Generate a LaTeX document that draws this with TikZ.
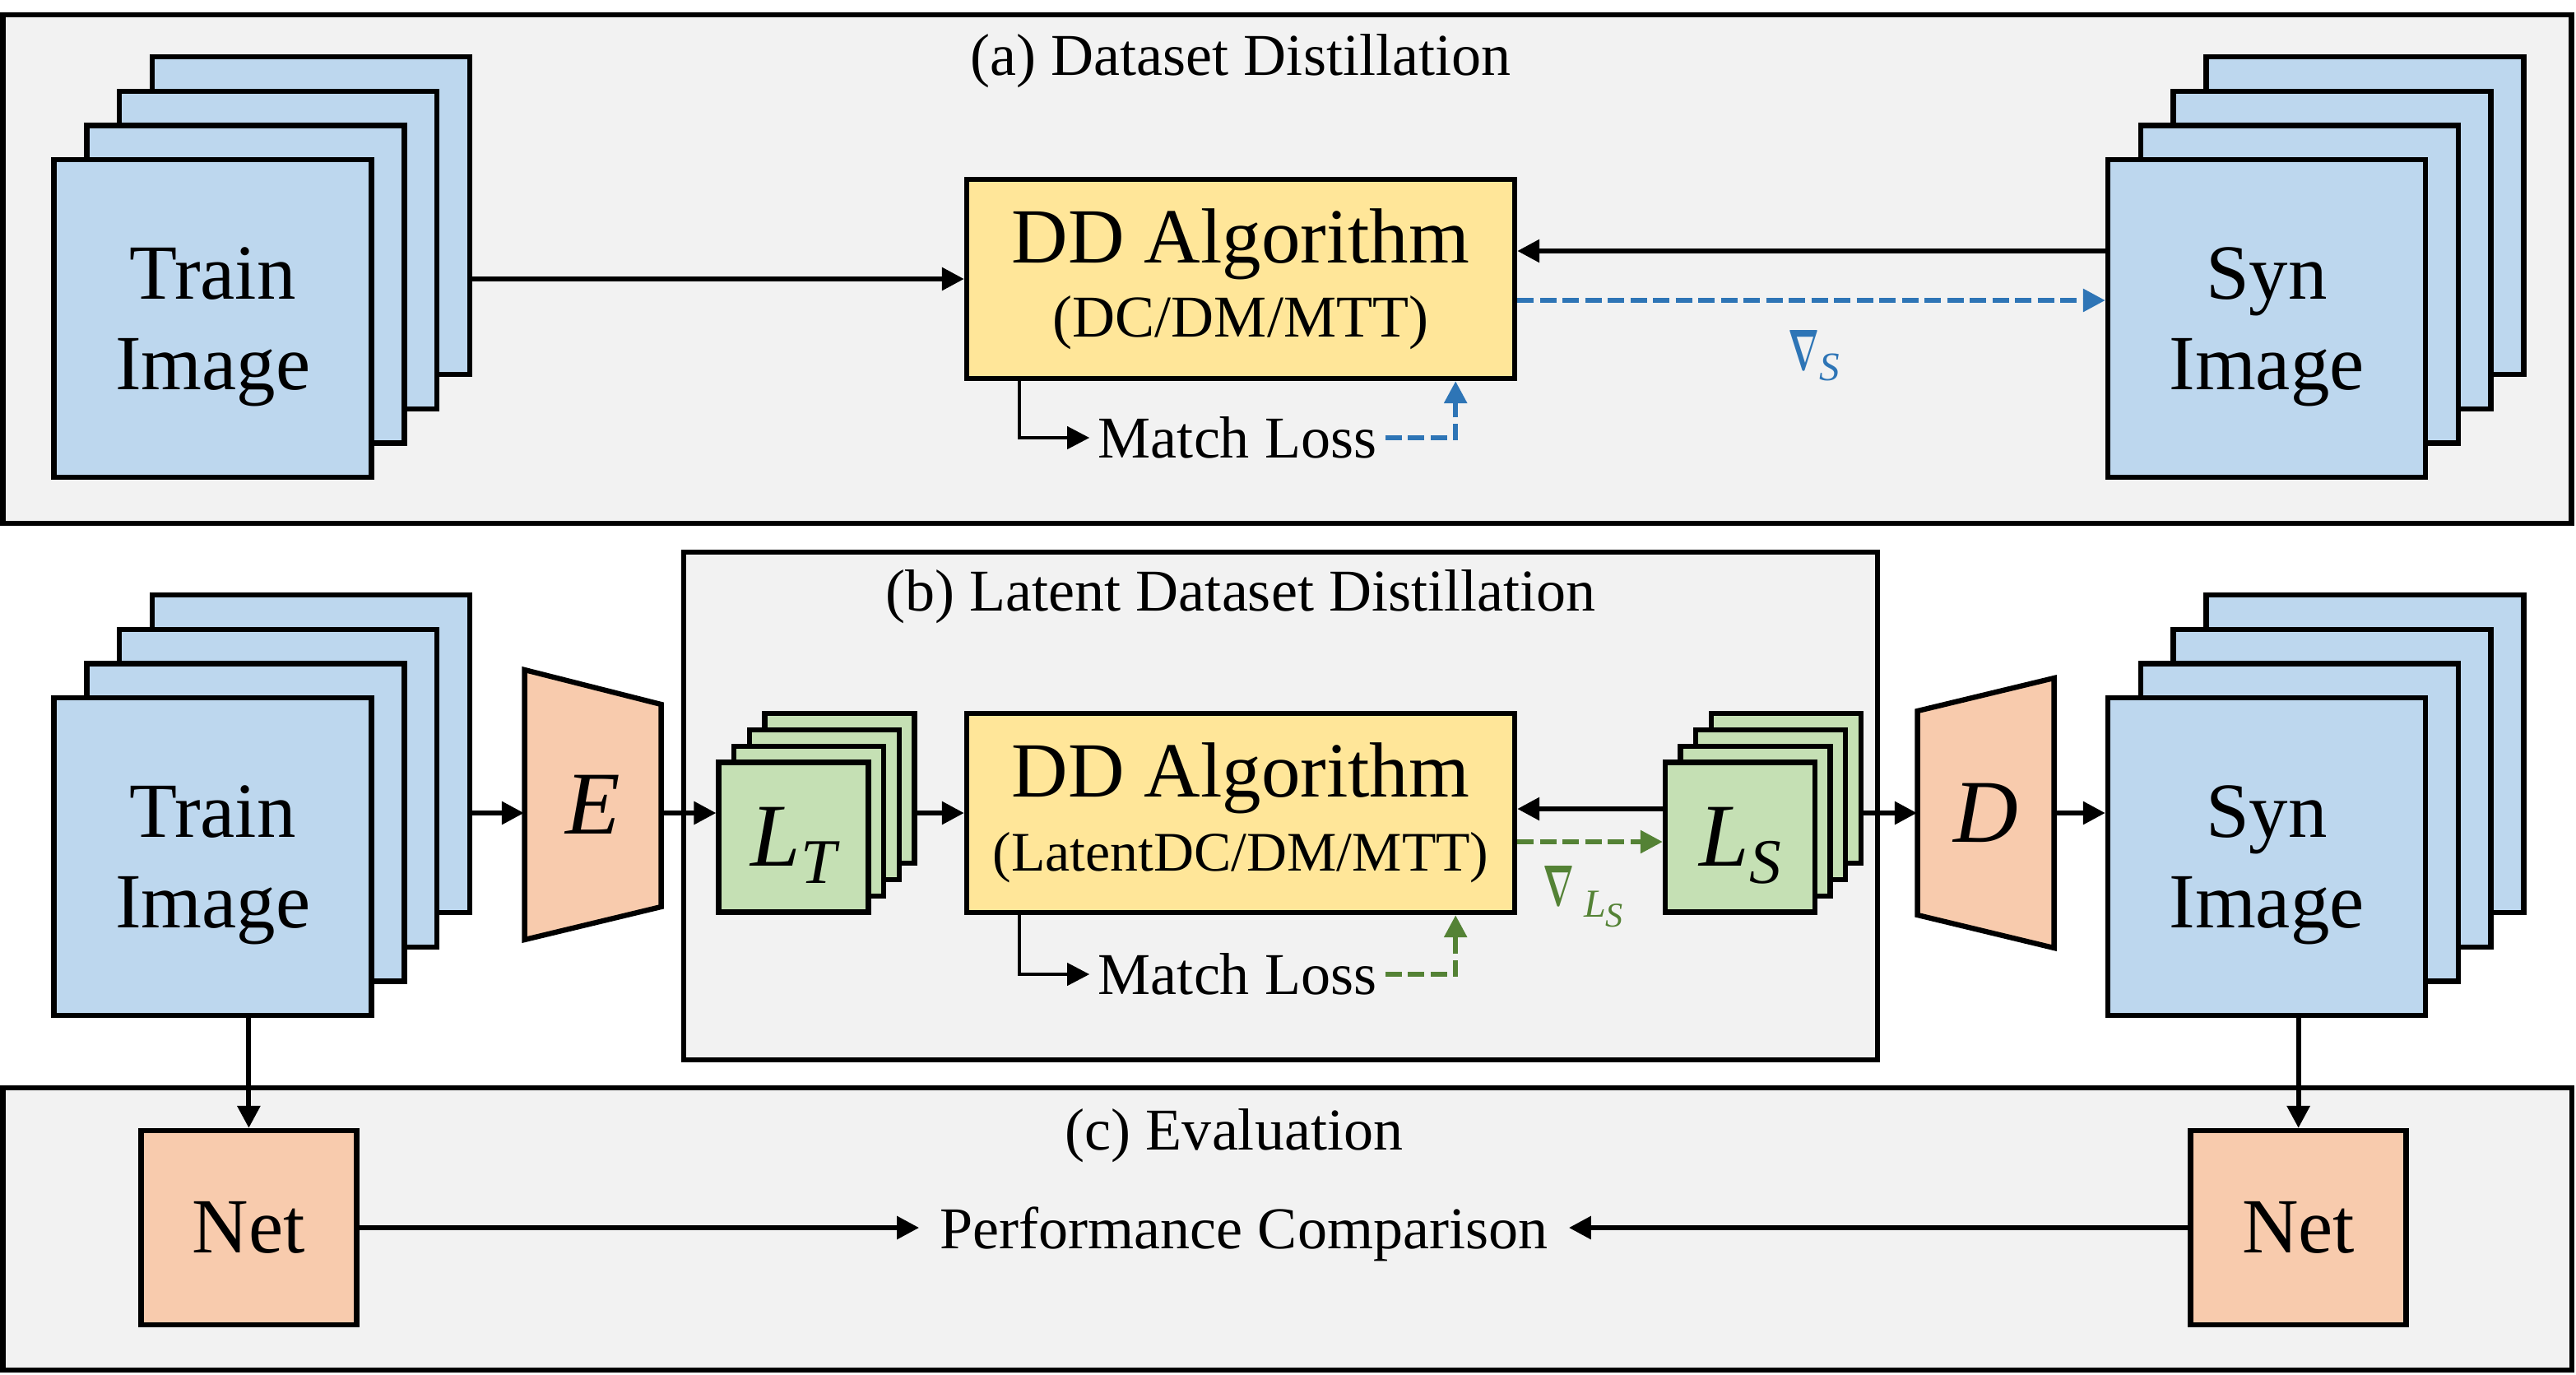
\documentclass[tikz,border=0pt]{standalone}
\usepackage{fix-cm}
\usepackage{amsmath}
\usepackage{graphicx}
\usepackage{fontspec}
\setmainfont{Liberation Serif}
\usetikzlibrary{arrows.meta,positioning}
\definecolor{nen}{HTML}{F2F2F2}
\definecolor{xanh}{HTML}{BDD7EE}
\definecolor{vang}{HTML}{FFE699}
\definecolor{cam}{HTML}{F8CBAD}
\definecolor{luc}{HTML}{C5E0B4}
\definecolor{gxanh}{HTML}{2E75B6}
\definecolor{gluc}{HTML}{548235}
\newcommand{\dao}{\resizebox{3.8mm}{4.8mm}{$\boldsymbol{\nabla}$}}%nabla hẹp
\begin{document}
\begin{tikzpicture}[x=0.2mm,y=-0.2mm,>={Triangle[length=2.7mm,width=2.7mm]},
    khung/.style={draw,line width=1.9pt,fill=nen},
    anh/.style={draw,line width=1.8pt,fill=xanh,minimum size=38.6mm,inner sep=0pt,align=center,font=\fontsize{27}{31.3}\selectfont},
    an/.style={draw,line width=1.8pt,fill=luc,minimum size=18.2mm,inner sep=0pt,font=\fontsize{31}{36}\selectfont\itshape},
    thuattoan/.style={draw,line width=1.8pt,fill=vang,minimum width=66.6mm,minimum height=24.2mm,align=center,font=\fontsize{20.5}{25.6}\selectfont},
    mang/.style={draw,line width=1.8pt,fill=cam,minimum width=26.2mm,minimum height=23.6mm,font=\fontsize{27}{31}\selectfont},
    hinhthang/.style={draw,line width=1.8pt,fill=cam},
    lon/.style={minimum width=16.6mm,inner sep=0pt,font=\fontsize{31}{36}\selectfont\itshape},
    chu/.style={font=\fontsize{20.5}{24}\selectfont},
    mui/.style={->,line width=1.7pt},
    gach/.style={->,line width=1.7pt,dash pattern=on 2mm off 0.75mm}]
    \useasboundingbox (0,0) rectangle (1565.5,835);
    \def\dx{19.9}%lệch ngang
    \def\dy{20.8}%lệch dọc
    \def\ex{9.3}
    \def\ey{9.9}
    % khung
    \draw[khung] (1.6,9) rectangle (1562.7,318);
    \draw[khung] (415.5,335.5) rectangle (1141,644);
    \draw[khung] (1.6,661) rectangle (1563,832.5);
    \path
    (754,37) node[chu] (ta) {(a) Dataset Distillation}
    (754,362.5) node[chu] (tb) {(b) Latent Dataset Distillation}
    (750,690) node[chu] (tc) {(c) Evaluation};
    % chồng ảnh
    \foreach \ten/\x/\y/\nd in {trainA/129.3/193.5/Train,synA/1377.5/193.5/Syn,trainB/129.3/520.5/Train,synB/1377.5/520.5/Syn}{
        \foreach \i in {3,2,1}
        \node[anh] (\ten\i) at ({\x+\dx*\i},{\y-\dy*\i}) {};
        \node[anh] (\ten0) at (\x,\y) {\rule{0pt}{24pt}\nd\\Image};
    }
    \foreach \ten/\x/\nd in {lt/482.3/T,ls/1057.5/S}{
        \foreach \i in {3,2,1}
        \node[an] (\ten\i) at ({\x+\ex*\i},{508.8-\ey*\i}) {};
        \node[an] (\ten0) at (\x,508.8) {\rule{0pt}{26pt}L\raisebox{-2.1mm}{\fontsize{22}{22}\selectfont\nd}};
    }
    % thuật toán
    \node[thuattoan] (ddA) at (754,169.5) {{\fontsize{27}{30}\selectfont DD Algorithm}\\(DC/DM/MTT)};
    \node[thuattoan] (ddB) at (754,494) {{\fontsize{27}{30}\selectfont DD Algorithm}\\{\fontsize{19.3}{23}\selectfont(LatentDC/DM/MTT)}};
    \node[chu,inner sep=1mm] (mlA) at (752,266) {Match Loss};
    \node[chu,inner sep=1mm] (mlB) at (752,592) {Match Loss};
    % E, D
    \draw[hinhthang] (318.8,407) -- (401.8,428) -- (401.8,551) -- (318.8,571) -- cycle;
    \node[lon] (enc) at (360.3,489) {E};
    \draw[hinhthang] (1165.3,432) -- (1248.3,412) -- (1248.3,576) -- (1165.3,556) -- cycle;
    \node[lon] (dec) at (1206.8,494) {D};
    % đánh giá
    \node[mang] (netL) at (151.2,746) {Net};
    \node[mang] (netR) at (1396.8,746) {Net};
    \node[chu,inner sep=2.5mm,text depth=0pt] (perf) at (756,746) {Performance Comparison};
    \node[chu,text=gxanh,inner sep=0pt] (gA) at (1102.5,216) {\dao\raisebox{-1.3mm}{\fontsize{14}{14}\selectfont\itshape S}};
    \node[chu,text=gluc,inner sep=0pt] (gB) at (962,545) {\dao\,\raisebox{-1.4mm}{\fontsize{13.7}{14}\selectfont\itshape L\raisebox{-1.2mm}{\fontsize{12}{12}\selectfont S}}};
    \coordinate (vaoA) at ([yshift=3.4mm]ddA.east);
    \coordinate (raA) at ([yshift=-2.6mm]ddA.east);
    \coordinate (vaoB) at ([yshift=0.5mm]ddB.east);
    \coordinate (raB) at ([yshift=-3.5mm]ddB.east);
    % (a)
    \draw[mui] (trainA3.east |- ddA.west) -- (ddA.west);
    \draw[mui] (synA0.west |- vaoA) -- (vaoA);
    \draw[gach,gxanh] (raA) -- (synA0.west |- raA);
    \draw[->,line width=1.2pt] ([xshift=6.7mm]ddA.south west) |- (mlA.west);
    \draw[gach,gxanh] (mlA.east) -| ([xshift=-7.5mm]ddA.south east);
    % (b)
    \draw[mui] (trainB3.east |- ddB.west) -- (enc.west |- ddB.west);
    \draw[mui] (enc.east |- ddB.west) -- (lt0.west |- ddB.west);
    \draw[mui] (lt3.east |- ddB.west) -- (ddB.west);
    \draw[mui] (ls0.west |- vaoB) -- (vaoB);
    \draw[gach,gluc] (raB) -- (ls0.west |- raB);
    \draw[mui] (ls3.east |- ddB.west) -- (dec.west |- ddB.west);
    \draw[mui] (dec.east |- ddB.west) -- (synB0.west |- ddB.west);
    \draw[->,line width=1.2pt] ([xshift=6.7mm]ddB.south west) |- (mlB.west);
    \draw[gach,gluc] (mlB.east) -| ([xshift=-7.5mm]ddB.south east);
    % (c)
    \draw[mui] (netL.north |- trainB0.south) -- (netL.north);
    \draw[mui] (netR.north |- synB0.south) -- (netR.north);
    \draw[mui] (netL) -- (perf);
    \draw[mui] (netR) -- (perf);
\end{tikzpicture}
\end{document}
